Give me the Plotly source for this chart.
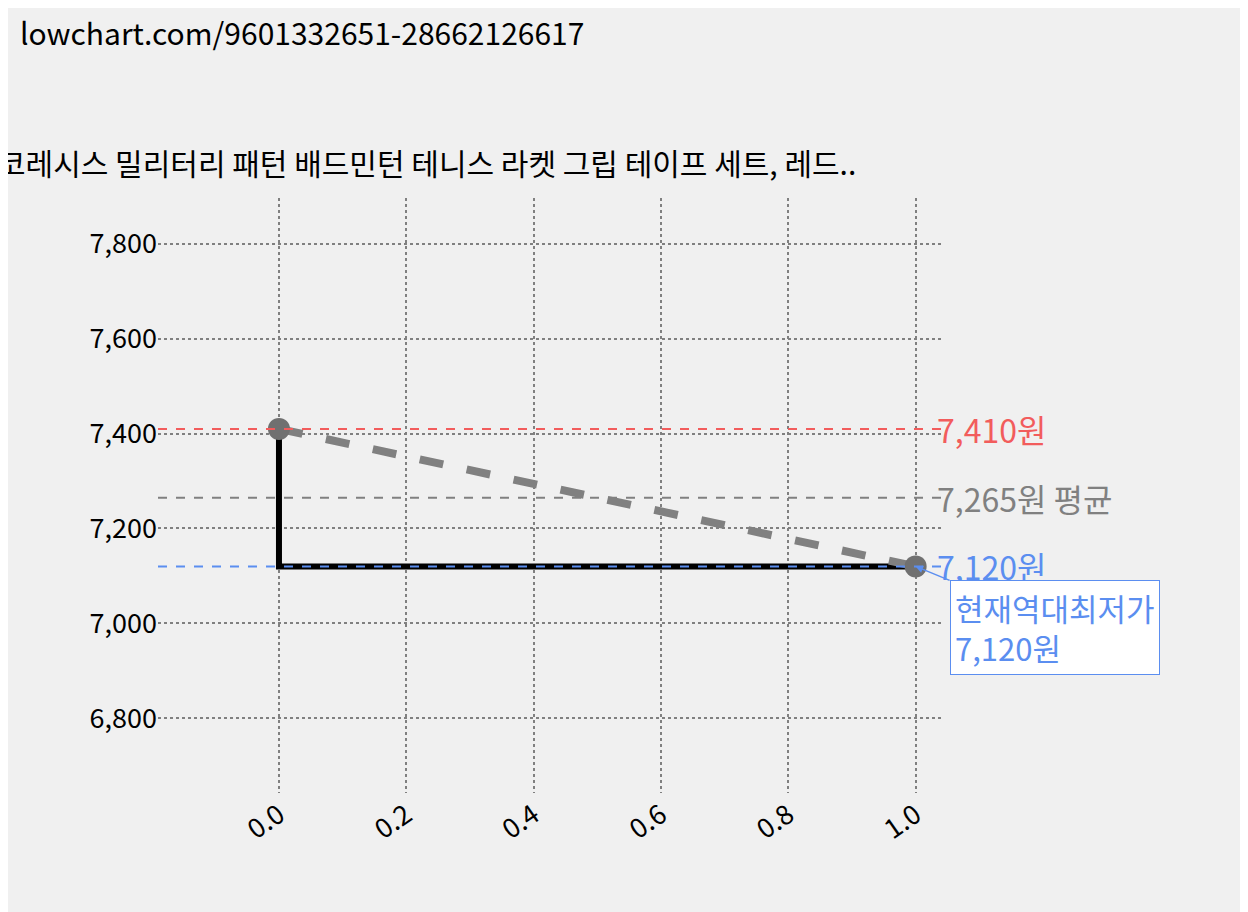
import plotly.graph_objects as go

x_vals = [0, 1]
prices = [7410, 7120]
min_step_x = [0, 0, 1]
min_step_y = [7410, 7120, 7120]
max_price = 7410
avg_price = 7265
min_price = 7120
title = "코레시스 밀리터리 패턴 배드민턴 테니스 라켓 그립 테이프 세트, 레드.."
url = "lowchart.com/9601332651-28662126617"
font = "Noto Sans CJK KR"

fig = go.Figure()

fig.add_hline(y=max_price, line=dict(color="#f25c5c", width=2, dash="dash"))
fig.add_hline(y=avg_price, line=dict(color="#808080", width=2, dash="dash"))
fig.add_hline(y=min_price, line=dict(color="#5b8ef0", width=2, dash="dash"))

fig.add_trace(go.Scatter(x=min_step_x, y=min_step_y, mode="lines",
                         line=dict(color="black", width=6), hoverinfo="skip"))
fig.add_trace(go.Scatter(x=x_vals, y=prices, mode="lines+markers",
                         line=dict(color="#808080", width=8, dash="dash"),
                         marker=dict(size=22, color="#707070")))

fig.add_annotation(x=1.03, y=max_price, xref="x", yref="y", text="7,410원", showarrow=False,
                   xanchor="left", font=dict(size=32, color="#f25c5c", family=font))
fig.add_annotation(x=1.03, y=avg_price, xref="x", yref="y", text="7,265원 평균", showarrow=False,
                   xanchor="left", font=dict(size=32, color="#808080", family=font))
fig.add_annotation(x=1.03, y=min_price, xref="x", yref="y", text="7,120원", showarrow=False,
                   xanchor="left", font=dict(size=32, color="#5b8ef0", family=font))
fig.add_annotation(x=1, y=min_price, xref="x", yref="y", text="현재역대최저가<br>7,120원",
                   showarrow=True, arrowhead=2, arrowcolor="#5b8ef0", arrowwidth=1.5,
                   ax=34, ay=14, xanchor="left", yanchor="top", align="left",
                   bgcolor="white", bordercolor="#5b8ef0", borderwidth=1, borderpad=4,
                   font=dict(size=31, color="#5b8ef0", family=font))

fig.add_annotation(x=-0.37, y=6905, xref="x", yref="y", text="<b><i>로우차트</i></b>", showarrow=False,
                   font=dict(size=165, color="rgba(150,180,240,0.35)", family=font))
fig.add_annotation(x=0.0, y=1.0, xref="paper", yref="paper", xshift=-140, yshift=190,
                   text=url, showarrow=False, xanchor="left", yanchor="top",
                   font=dict(size=30, color="black", family=font))
fig.add_annotation(x=0.0, y=1.0, xref="paper", yref="paper", xshift=-162, yshift=60,
                   text=title, showarrow=False, xanchor="left", yanchor="top",
                   font=dict(size=30, color="black", family=font))

grid = dict(showgrid=True, gridcolor="#808080", griddash="dot", gridwidth=2,
            zeroline=False, showline=False, tickfont=dict(size=27, color="black", family=font))
fig.update_xaxes(range=[-0.19, 1.043], tickvals=[0, 0.2, 0.4, 0.6, 0.8, 1.0],
                 ticktext=["0.0", "0.2", "0.4", "0.6", "0.8", "1.0"], tickangle=-35, **grid)
fig.update_yaxes(range=[6642, 7897], tickvals=[6800, 7000, 7200, 7400, 7600, 7800],
                 tickformat=",", **grid)

fig.update_layout(width=1248, height=912, showlegend=False,
                  paper_bgcolor="#f0f0f0", plot_bgcolor="#f0f0f0",
                  margin=dict(l=150, r=313, t=190, b=127, autoexpand=False))
fig.write_html("out.html")
